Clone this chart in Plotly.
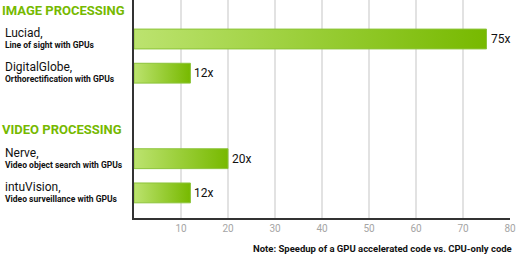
import plotly.graph_objects as go

sections = ["IMAGE PROCESSING", "VIDEO PROCESSING"]
names = ["Luciad,", "DigitalGlobe,", "Nerve,", "intuVision,"]
subtitles = ["Line of sight with GPUs", "Orthorectification with GPUs",
             "Video object search with GPUs", "Video surveillance with GPUs"]
section_of = [0, 0, 1, 1]
speedups = [75, 12, 20, 12]
tick_values = [10, 20, 30, 40, 50, 60, 70, 80]
note = "Note: Speedup of a GPU accelerated code vs. CPU-only code"

# layout: row positions (row units), with a gap between sections
row_pos = []
r = 0.0
prev = None
for s in section_of:
    if prev is not None and s != prev:
        r += 1.5
    row_pos.append(r)
    r += 1
    prev = s
header_pos = [row_pos[section_of.index(i)] - 0.84 for i in range(len(sections))]

GREEN = "#76b900"
FONT = "Roboto"
half = 0.29

fig = go.Figure()
for i, v in enumerate(speedups):
    y0, y1 = row_pos[i] - half, row_pos[i] + half
    fig.add_trace(go.Scatter(
        x=[0, v, v, 0, 0], y=[y0, y0, y1, y1, y0],
        mode="lines", fill="toself",
        fillgradient=dict(type="horizontal",
                          colorscale=[[0, "#bce36f"], [1, "#77b900"]]),
        line=dict(color="#8cc43a", width=1),
        hoverinfo="skip", showlegend=False))
    fig.add_annotation(x=v, y=row_pos[i], text=f"{v}x", showarrow=False,
                       xanchor="left", xshift=2,
                       font=dict(family=FONT, size=12, color="#111"))
    fig.add_annotation(xref="paper", x=0, y=row_pos[i], text=names[i],
                       showarrow=False, xanchor="left", xshift=-131, yshift=6,
                       font=dict(family=FONT, size=12, color="#111"))
    fig.add_annotation(xref="paper", x=0, y=row_pos[i], text=f"<b>{subtitles[i]}</b>",
                       showarrow=False, xanchor="left", xshift=-131, yshift=-6,
                       font=dict(family=FONT, size=8.5, color="#111"))

for j, s in enumerate(sections):
    fig.add_annotation(xref="paper", x=0, y=header_pos[j], text=f"<b>{s}</b>",
                       showarrow=False, xanchor="left", xshift=-134,
                       font=dict(family=FONT, size=13, color=GREEN))

fig.add_annotation(xref="paper", yref="paper", x=1, y=0, yshift=-30,
                   text=f"<b>{note}</b>", showarrow=False, xanchor="right",
                   yanchor="middle", xshift=4,
                   font=dict(family=FONT, size=9.5, color="#111"))

px_per_row = 34.2
top = -39 / px_per_row
bottom = (218 - 39) / px_per_row

fig.update_layout(
    width=516, height=254,
    margin=dict(l=134, r=6, t=0, b=36),
    paper_bgcolor="white", plot_bgcolor="white",
    xaxis=dict(range=[0, 80], tickvals=tick_values, showgrid=True,
               gridcolor="#e2e2e2", gridwidth=1.5, zeroline=False,
               showline=True, linecolor="#333", linewidth=1.5,
               ticks="", tickfont=dict(family=FONT, size=10, color="#a5a5a5")),
    yaxis=dict(range=[bottom, top], showticklabels=False, showgrid=False,
               zeroline=False, showline=True, linecolor="#333", linewidth=1.5,
               ticks=""),
)
fig.write_html("out.html")
